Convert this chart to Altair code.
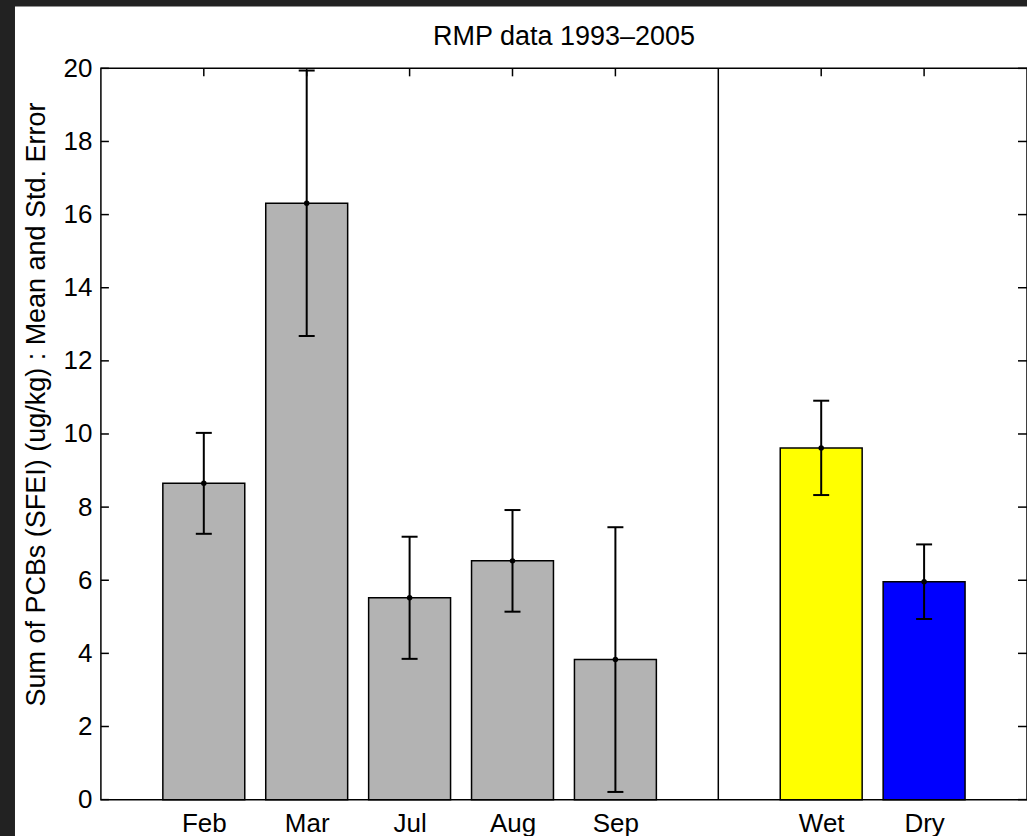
import altair as alt
import pandas as pd

# ---- data ----
categories = ["Feb", "Mar", "Jul", "Aug", "Sep", "Wet", "Dry"]
means = [8.65, 16.31, 5.52, 6.53, 3.83, 9.62, 5.96]
std_errors = [1.38, 3.63, 1.67, 1.39, 3.62, 1.29, 1.02]
bar_colors = ["#b3b3b3", "#b3b3b3", "#b3b3b3", "#b3b3b3", "#b3b3b3", "#ffff00", "#0000ff"]
spacer = " "
x_order = ["Feb", "Mar", "Jul", "Aug", "Sep", spacer, "Wet", "Dry"]
y_ticks = [0, 2, 4, 6, 8, 10, 12, 14, 16, 18, 20]

title_text = "RMP data 1993\u20132005"
y_title = "Sum of PCBs (SFEI) (ug/kg) : Mean and Std. Error"

FONT = "Liberation Sans"
W, H = 927, 732

df = pd.DataFrame({"cat": categories, "mean": means, "se": std_errors})
tick_df = pd.DataFrame({"v": y_ticks})
div_df = pd.DataFrame({"cat": [spacer]})
one_df = pd.DataFrame({"a": [0]})

x_scale = alt.Scale(type="point", domain=x_order, padding=1)
y_scale = alt.Scale(domain=[0, 20], nice=False)

x_axis = alt.Axis(
    title=None, ticks=False, tickSize=0, domain=False, grid=False,
    labelFont=FONT, labelFontSize=26, labelColor="black", labelAngle=0,
    labelBaseline="alphabetic", labelPadding=32, zindex=1,
)
y_axis = alt.Axis(
    values=y_ticks, ticks=False, tickSize=0, domain=False, grid=False,
    labelFont=FONT, labelFontSize=26, labelColor="black", labelPadding=9,
    title=y_title, titleFont=FONT, titleFontSize=27, titleFontWeight="normal",
    titleColor="black", titleAngle=270, titleAlign="center",
    titleBaseline="alphabetic", titleX=-56, titleY=336, zindex=1,
)

X = alt.X("cat:N", scale=x_scale, axis=x_axis)

# white figure background (the dark frame of the screenshot shows round it)
bg = alt.Chart(one_df).mark_rect(color="white").encode(
    x=alt.value(-86), x2=alt.value(960), y=alt.value(-62), y2=alt.value(800)
)

bars = alt.Chart(df).mark_bar(size=82, stroke="black", strokeWidth=1.5).encode(
    x=X,
    y=alt.Y("mean:Q", scale=y_scale, axis=y_axis),
    color=alt.Color("cat:N", scale=alt.Scale(domain=categories, range=bar_colors), legend=None),
)

err = alt.Chart(df).transform_calculate(
    lo="datum.mean - datum.se", hi="datum.mean + datum.se"
)

err_rule = err.mark_rule(color="black", strokeWidth=2).encode(
    x=X, y=alt.Y("lo:Q", scale=y_scale), y2="hi:Q"
)
cap_hi = err.mark_tick(color="black", orient="horizontal", size=16, thickness=2, opacity=1).encode(
    x=X, y=alt.Y("hi:Q", scale=y_scale)
)
cap_lo = err.mark_tick(color="black", orient="horizontal", size=16, thickness=2, opacity=1).encode(
    x=X, y=alt.Y("lo:Q", scale=y_scale)
)
dots = alt.Chart(df).mark_point(filled=True, color="black", size=30, opacity=1).encode(
    x=X, y=alt.Y("mean:Q", scale=y_scale)
)

# inward ticks: top (at categories), left and right (at y values)
top_ticks = alt.Chart(df).mark_rule(color="black", strokeWidth=1.5).encode(
    x=X, y=alt.value(0), y2=alt.value(8)
)
left_ticks = alt.Chart(tick_df).mark_rule(color="black", strokeWidth=1.5).encode(
    y=alt.Y("v:Q", scale=y_scale), x=alt.value(0), x2=alt.value(8)
)
right_ticks = alt.Chart(tick_df).mark_rule(color="black", strokeWidth=1.5).encode(
    y=alt.Y("v:Q", scale=y_scale), x=alt.value(W - 9), x2=alt.value("width")
)

divider = alt.Chart(div_df).mark_rule(color="black", strokeWidth=1.5).encode(
    x=X, y=alt.value(0), y2=alt.value("height")
)

frame = alt.Chart(one_df).mark_rect(fillOpacity=0, stroke="black", strokeWidth=1.5).encode(
    x=alt.value(0), x2=alt.value("width"), y=alt.value(0), y2=alt.value("height")
)

chart = alt.layer(
    bg, top_ticks, left_ticks, right_ticks, bars, err_rule, cap_hi, cap_lo, dots, divider, frame
).properties(
    width=W,
    height=H,
    title=alt.TitleParams(
        title_text, frame="group", anchor="middle", baseline="alphabetic",
        offset=21, dy=87, font=FONT, fontSize=27, fontWeight="normal", color="black",
    ),
    autosize=alt.AutoSizeParams(type="none"),
    padding={"left": 101, "top": 68, "right": 0, "bottom": 36},
    background="#222222",
).configure_view(strokeWidth=0)

chart.save("out.html", embed_options={"renderer": "svg", "actions": False})
